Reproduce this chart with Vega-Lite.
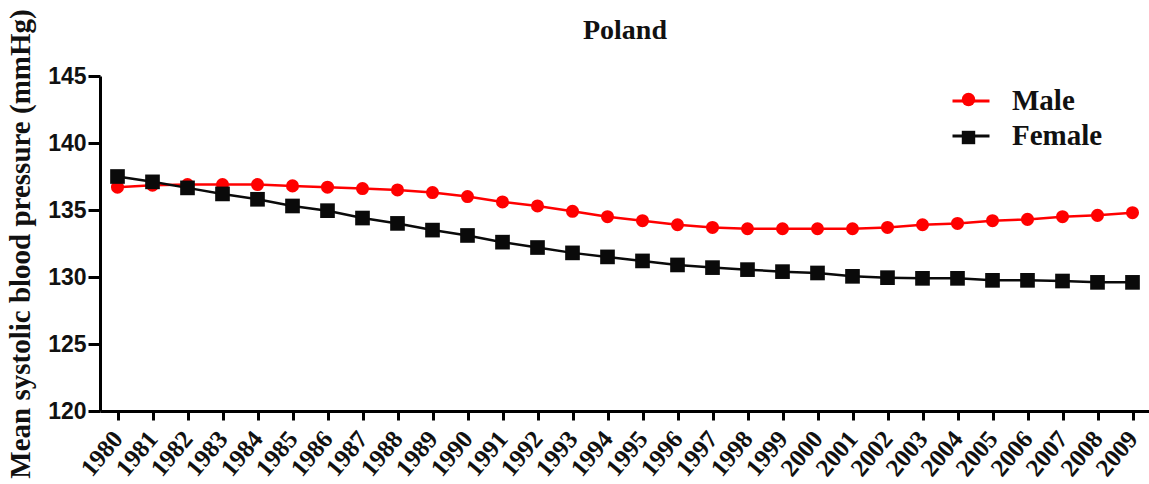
{
  "$schema": "https://vega.github.io/schema/vega-lite/v6.json",
  "autosize": "none",
  "width": 1050,
  "height": 335,
  "padding": {"left": 100, "top": 76, "right": 0, "bottom": 73},
  "background": "white",
  "title": {"text": "Poland", "font": "Liberation Serif", "fontSize": 28, "fontWeight": "bold", "color": "#111", "offset": 0, "dy": 36, "anchor": "middle"},
  "data": {"values": [
    {"year": "1980", "sex": "Male", "sbp": 136.7},
    {"year": "1981", "sex": "Male", "sbp": 136.85},
    {"year": "1982", "sex": "Male", "sbp": 136.9},
    {"year": "1983", "sex": "Male", "sbp": 136.9},
    {"year": "1984", "sex": "Male", "sbp": 136.9},
    {"year": "1985", "sex": "Male", "sbp": 136.8},
    {"year": "1986", "sex": "Male", "sbp": 136.7},
    {"year": "1987", "sex": "Male", "sbp": 136.6},
    {"year": "1988", "sex": "Male", "sbp": 136.5},
    {"year": "1989", "sex": "Male", "sbp": 136.3},
    {"year": "1990", "sex": "Male", "sbp": 136.0},
    {"year": "1991", "sex": "Male", "sbp": 135.6},
    {"year": "1992", "sex": "Male", "sbp": 135.3},
    {"year": "1993", "sex": "Male", "sbp": 134.9},
    {"year": "1994", "sex": "Male", "sbp": 134.5},
    {"year": "1995", "sex": "Male", "sbp": 134.2},
    {"year": "1996", "sex": "Male", "sbp": 133.9},
    {"year": "1997", "sex": "Male", "sbp": 133.7},
    {"year": "1998", "sex": "Male", "sbp": 133.6},
    {"year": "1999", "sex": "Male", "sbp": 133.6},
    {"year": "2000", "sex": "Male", "sbp": 133.6},
    {"year": "2001", "sex": "Male", "sbp": 133.6},
    {"year": "2002", "sex": "Male", "sbp": 133.7},
    {"year": "2003", "sex": "Male", "sbp": 133.9},
    {"year": "2004", "sex": "Male", "sbp": 134.0},
    {"year": "2005", "sex": "Male", "sbp": 134.2},
    {"year": "2006", "sex": "Male", "sbp": 134.3},
    {"year": "2007", "sex": "Male", "sbp": 134.5},
    {"year": "2008", "sex": "Male", "sbp": 134.6},
    {"year": "2009", "sex": "Male", "sbp": 134.8},
    {"year": "1980", "sex": "Female", "sbp": 137.5},
    {"year": "1981", "sex": "Female", "sbp": 137.1},
    {"year": "1982", "sex": "Female", "sbp": 136.65},
    {"year": "1983", "sex": "Female", "sbp": 136.2},
    {"year": "1984", "sex": "Female", "sbp": 135.8},
    {"year": "1985", "sex": "Female", "sbp": 135.3},
    {"year": "1986", "sex": "Female", "sbp": 134.95},
    {"year": "1987", "sex": "Female", "sbp": 134.4},
    {"year": "1988", "sex": "Female", "sbp": 134.0},
    {"year": "1989", "sex": "Female", "sbp": 133.5},
    {"year": "1990", "sex": "Female", "sbp": 133.1},
    {"year": "1991", "sex": "Female", "sbp": 132.6},
    {"year": "1992", "sex": "Female", "sbp": 132.2},
    {"year": "1993", "sex": "Female", "sbp": 131.8},
    {"year": "1994", "sex": "Female", "sbp": 131.5},
    {"year": "1995", "sex": "Female", "sbp": 131.2},
    {"year": "1996", "sex": "Female", "sbp": 130.9},
    {"year": "1997", "sex": "Female", "sbp": 130.7},
    {"year": "1998", "sex": "Female", "sbp": 130.55},
    {"year": "1999", "sex": "Female", "sbp": 130.4},
    {"year": "2000", "sex": "Female", "sbp": 130.3},
    {"year": "2001", "sex": "Female", "sbp": 130.05},
    {"year": "2002", "sex": "Female", "sbp": 129.95},
    {"year": "2003", "sex": "Female", "sbp": 129.9},
    {"year": "2004", "sex": "Female", "sbp": 129.9},
    {"year": "2005", "sex": "Female", "sbp": 129.75},
    {"year": "2006", "sex": "Female", "sbp": 129.75},
    {"year": "2007", "sex": "Female", "sbp": 129.7},
    {"year": "2008", "sex": "Female", "sbp": 129.6},
    {"year": "2009", "sex": "Female", "sbp": 129.6}
  ]},
  "encoding": {
    "x": {"field": "year", "type": "ordinal", "scale": {"type": "point", "padding": 0.5},
      "axis": {"title": null, "labelAngle": -50, "labelFont": "Liberation Serif", "labelFontSize": 25, "labelFontWeight": "bold", "labelColor": "#111",
        "domainColor": "#000", "domainWidth": 3, "tickColor": "#000", "tickWidth": 3, "tickSize": 9, "labelPadding": 14, "grid": false}},
    "y": {"field": "sbp", "type": "quantitative", "scale": {"domain": [120, 145], "zero": false, "nice": false},
      "axis": {"title": "Mean systolic blood pressure (mmHg)", "values": [120, 125, 130, 135, 140, 145],
        "titleFont": "Liberation Serif", "titleFontSize": 29, "titleFontWeight": "bold", "titleColor": "#111", "titlePadding": 12,
        "labelFont": "Liberation Sans", "labelFontSize": 23, "labelFontWeight": "bold", "labelColor": "#111", "labelPadding": 2,
        "domainColor": "#000", "domainWidth": 3, "tickColor": "#000", "tickWidth": 3, "tickSize": 12, "grid": false}}
  },
  "layer": [
    {"mark": {"type": "line", "strokeWidth": 2.5},
      "encoding": {
        "color": {"field": "sex", "type": "nominal", "scale": {"domain": ["Male", "Female"], "range": ["#ff0000", "#0a0a0a"]},
          "legend": {"title": null, "orient": "none", "legendX": 851, "legendY": 5, "padding": 0, "symbolType": "stroke", "symbolSize": 1369, "symbolStrokeWidth": 3,
            "labelFont": "Liberation Serif", "labelFontSize": 29, "labelFontWeight": "bold", "labelColor": "#111", "rowPadding": 0, "labelOffset": 21, "labelLimit": 300}}
      }},
    {"mark": {"type": "point", "filled": true, "opacity": 1},
      "encoding": {
        "fill": {"field": "sex", "type": "nominal", "scale": {"domain": ["Female", "Male"], "range": ["#0a0a0a", "#ff0000"]}},
        "shape": {"field": "sex", "type": "nominal", "scale": {"domain": ["Female", "Male"], "range": ["square", "circle"]},
          "legend": {"title": null, "orient": "none", "legendX": 854, "legendY": 9, "padding": 0, "values": ["Male", "Female"], "symbolSize": 180,
            "labelFontSize": 29, "labelExpr": "''", "rowPadding": 8}},
        "size": {"field": "sex", "type": "nominal", "scale": {"domain": ["Male", "Female", "Other"], "range": [170, 260, 0]}, "legend": null}
      }}
  ],
  "config": {"view": {"stroke": null}}
}
